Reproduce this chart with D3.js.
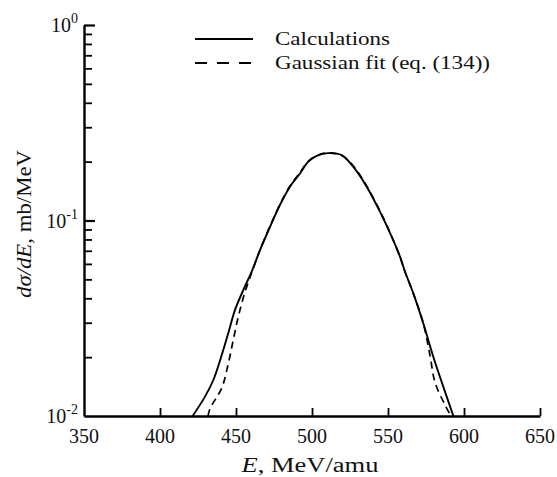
<!DOCTYPE html>
<html><head><meta charset="utf-8">
<script src="https://cdn.jsdelivr.net/npm/d3@7"></script>
<style>
body{margin:0;background:#fff;}
text{font-family:"Liberation Serif","Times New Roman",serif;fill:#111;}
</style></head>
<body><svg id="c" width="557" height="477"></svg>
<script>
// Data
const calcE = [421.5,429.6,435.1,440.6,444.9,449.3,454.8,460.3,465.8,472.4,478.9,485.5,492.1,497.6,503.1,510.5,519.5,527.2,536.0,544.7,552.4,557.9,561.2,566.6,573.2,579.8,586.4,593.0];
const calcV = [0.0100,0.01256,0.01528,0.0205,0.0265,0.0348,0.0441,0.0547,0.0706,0.0929,0.120,0.149,0.174,0.200,0.214,0.221,0.216,0.188,0.149,0.111,0.0826,0.0653,0.0547,0.0425,0.0298,0.0201,0.0141,0.0100];
const fitE = [431.6,432.9,440.6,444.5,448.2,451.5,455.5,460.3,465.8,472.4,478.9,485.5,492.1,497.6,503.1,510.5,519.5,527.2,536.0,544.7,552.4,557.9,561.2,566.6,573.2,577.6,581.0,587.5,591.4];
const fitV = [0.0100,0.0109,0.0139,0.0179,0.0245,0.0322,0.0420,0.0540,0.0706,0.0935,0.121,0.150,0.176,0.201,0.215,0.222,0.215,0.190,0.150,0.112,0.0830,0.0650,0.0545,0.0425,0.0298,0.0205,0.0148,0.0114,0.0100];
const xTicks = [350,400,450,500,550,600,650];
const yMajor = [0.01,0.1,1];
const yExp = ["-2","-1","0"];
const yMinor = [0.02,0.03,0.04,0.05,0.06,0.07,0.08,0.09,0.2,0.3,0.4,0.5,0.6,0.7,0.8,0.9];
const legendLabels = ["Calculations","Gaussian fit (eq. (134))"];

const svg = d3.select("#c");
const x = d3.scaleLinear().domain([350,650]).range([84,540]);
const y = d3.scaleLog().domain([0.01,1]).range([416,25]);

// axes
const xAxis = d3.axisBottom(x).tickValues(xTicks.filter(d=>d>350)).tickSizeInner(-8).tickSizeOuter(0).tickFormat("");
const gx = svg.append("g").attr("transform","translate(0,416)").call(xAxis);
gx.select(".domain").attr("stroke","#000").attr("stroke-width",2.4);
gx.selectAll(".tick line").attr("stroke","#000").attr("stroke-width",1.8);

const yAxisMinor = d3.axisLeft(y).tickValues(yMinor).tickSizeInner(-8).tickSizeOuter(0).tickFormat("");
const gy = svg.append("g").attr("transform","translate(84,0)").call(yAxisMinor);
gy.select(".domain").attr("stroke","#000").attr("stroke-width",2.4);
gy.selectAll(".tick line").attr("stroke","#000").attr("stroke-width",1.8);
const yAxisMajor = d3.axisLeft(y).tickValues(yMajor.filter(d=>d>0.01)).tickSizeInner(-11).tickSizeOuter(0).tickFormat("");
const gy2 = svg.append("g").attr("transform","translate(84,0)").call(yAxisMajor);
gy2.select(".domain").remove();
gy2.selectAll(".tick line").attr("stroke","#000").attr("stroke-width",2.2);

// x tick labels
svg.selectAll("text.xl").data(xTicks).enter().append("text")
  .attr("x",d=>x(d)).attr("y",443).attr("text-anchor","middle")
  .attr("font-size",20).text(d=>d);

// y tick labels
yMajor.forEach((v,i)=>{
  const t = svg.append("text").attr("x",78).attr("y",y(v)+7).attr("text-anchor","end").attr("font-size",20);
  t.append("tspan").text("10");
  t.append("tspan").attr("dy",-9).attr("font-size",14).text(yExp[i]);
});

// axis titles
const xt = svg.append("text").attr("x",310).attr("y",472).attr("text-anchor","middle").attr("font-size",20)
  .attr("textLength",137).attr("lengthAdjust","spacingAndGlyphs");
xt.append("tspan").attr("font-style","italic").text("E");
xt.append("tspan").text(", MeV/amu");
const yt = svg.append("text").attr("transform","translate(31,224) rotate(-90)").attr("text-anchor","middle").attr("font-size",20)
  .attr("textLength",148).attr("lengthAdjust","spacingAndGlyphs");
yt.append("tspan").attr("font-style","italic").text("d\u03c3/dE");
yt.append("tspan").text(", mb/MeV");

// curves
const line = d3.line().x(d=>x(d[0])).y(d=>y(d[1])).curve(d3.curveCatmullRom);
svg.append("path").datum(calcE.map((e,i)=>[e,calcV[i]])).attr("d",line)
  .attr("fill","none").attr("stroke","#000").attr("stroke-width",1.9);
svg.append("path").datum(fitE.map((e,i)=>[e,fitV[i]])).attr("d",line)
  .attr("fill","none").attr("stroke","#000").attr("stroke-width",1.7).attr("stroke-dasharray","7,5");

// legend
const lg = svg.append("g");
lg.append("line").attr("x1",195).attr("x2",253).attr("y1",39).attr("y2",39).attr("stroke","#000").attr("stroke-width",1.9);
lg.append("line").attr("x1",195).attr("x2",255).attr("y1",63).attr("y2",63).attr("stroke","#000").attr("stroke-width",1.9).attr("stroke-dasharray","12,10");
lg.append("text").attr("x",275).attr("y",45).attr("font-size",19).attr("textLength",115).attr("lengthAdjust","spacingAndGlyphs").text(legendLabels[0]);
lg.append("text").attr("x",275).attr("y",69).attr("font-size",19).attr("textLength",215).attr("lengthAdjust","spacingAndGlyphs").text(legendLabels[1]);
</script></body></html>
